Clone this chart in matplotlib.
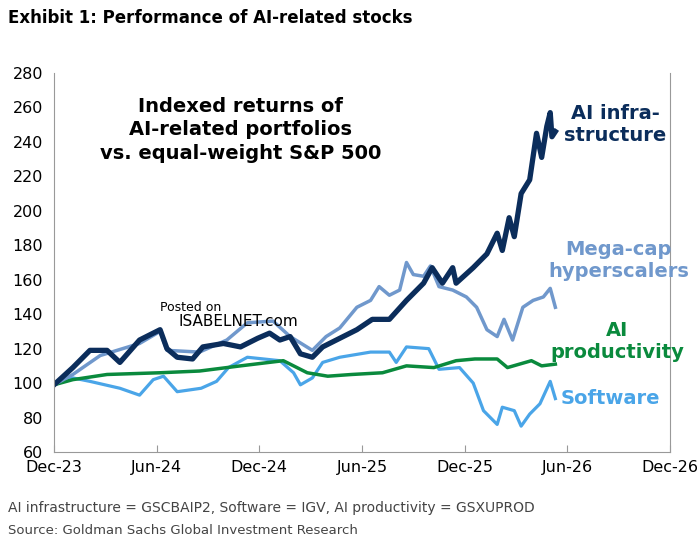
import matplotlib
matplotlib.use("Agg")
import matplotlib.pyplot as plt

tick_labels = ["Dec-23", "Jun-24", "Dec-24", "Jun-25", "Dec-25", "Jun-26", "Dec-26"]
tick_months = [0, 6, 12, 18, 24, 30, 36]

infra_m = [0, 1.1, 2.1, 3.1, 3.85, 5.0, 5.8, 6.2, 6.6, 7.2, 8.1, 8.7, 9.9, 10.9, 11.9, 12.6, 13.2, 13.8, 14.4, 15.1, 15.7, 16.7, 17.7, 18.6, 19.6, 20.6, 21.6, 22.1, 22.7, 23.3, 23.5, 24.5, 25.3, 25.9, 26.2, 26.6, 26.9, 27.3, 27.8, 28.2, 28.5, 28.8, 29.0, 29.1, 29.3]
infra_v = [99, 109, 119, 119, 112, 125, 129, 131, 120, 115, 114, 121, 123, 121, 126, 129, 125, 127, 117, 115, 121, 126, 131, 137, 137, 148, 158, 167, 158, 167, 158, 167, 175, 187, 177, 196, 185, 210, 218, 245, 231, 249, 257, 243, 246]

mega_m = [0, 1.1, 2.7, 5.0, 6.2, 6.6, 8.5, 10.1, 11.3, 12.8, 13.8, 15.1, 15.9, 16.7, 17.7, 18.5, 19.0, 19.6, 20.2, 20.6, 21.0, 21.6, 22.0, 22.5, 23.3, 24.1, 24.7, 25.3, 25.9, 26.3, 26.8, 27.4, 28.0, 28.6, 29.0, 29.3]
mega_v = [99, 105, 116, 123, 130, 119, 118, 125, 135, 136, 127, 119, 127, 132, 144, 148, 156, 151, 154, 170, 163, 162, 168, 156, 154, 150, 144, 131, 127, 137, 125, 144, 148, 150, 155, 144]

soft_m = [0, 1.1, 2.1, 3.85, 5.0, 5.8, 6.4, 7.2, 8.6, 9.5, 10.2, 11.3, 13.2, 14.0, 14.4, 15.1, 15.7, 16.7, 18.5, 19.6, 20.0, 20.6, 21.9, 22.5, 23.7, 24.5, 25.1, 25.9, 26.2, 26.9, 27.3, 27.8, 28.4, 29.0, 29.3]
soft_v = [99, 103, 101, 97, 93, 102, 104, 95, 97, 101, 109, 115, 113, 106, 99, 103, 112, 115, 118, 118, 112, 121, 120, 108, 109, 100, 84, 76, 86, 84, 75, 82, 88, 101, 91]

prod_m = [0, 1.1, 3.1, 6.2, 8.5, 10.9, 13.4, 14.8, 16.0, 17.4, 19.2, 20.6, 22.2, 23.5, 24.6, 25.9, 26.5, 27.9, 28.5, 29.3]
prod_v = [99, 102, 105, 106, 107, 110, 113, 106, 104, 105, 106, 110, 109, 113, 114, 114, 109, 113, 110, 111]

c_infra, c_mega, c_soft, c_prod = "#0b2d5b", "#7098cc", "#4aa5e8", "#0a8a3d"

fig = plt.figure(figsize=(7, 5.5), dpi=100)
ax = fig.add_axes([54/700, 1-452/550, (670-54)/700, (452-73)/550])
ax.plot(soft_m, soft_v, color=c_soft, lw=2.3)
ax.plot(prod_m, prod_v, color=c_prod, lw=2.5)
ax.plot(mega_m, mega_v, color=c_mega, lw=2.5)
ax.plot(infra_m, infra_v, color=c_infra, lw=3.8)

ax.set_xlim(0, 36)
ax.set_ylim(60, 280)
ax.set_yticks(range(60, 281, 20))
ax.set_xticks(tick_months)
ax.set_xticklabels(tick_labels)
ax.tick_params(labelsize=11.5, colors="black", length=5)
ax.tick_params(axis="y", length=0, pad=8)
ax.tick_params(axis="x", direction="in", color="#999999", pad=6)
for s in ["left", "bottom", "right"]:
    ax.spines[s].set_color("#999999")
ax.spines["top"].set_visible(False)

ax.text(10.9, 247, "Indexed returns of\nAI-related portfolios\nvs. equal-weight S&P 500", ha="center", va="center",
        fontsize=14, fontweight="bold", linespacing=1.3)
ax.text(32.8, 250, "AI infra-\nstructure", color=c_infra, fontsize=14, fontweight="bold", ha="center", va="center")
ax.text(33.0, 171, "Mega-cap\nhyperscalers", color=c_mega, fontsize=14, fontweight="bold", ha="center", va="center")
ax.text(32.9, 124, "AI\nproductivity", color=c_prod, fontsize=14, fontweight="bold", ha="center", va="center")
ax.text(32.5, 91, "Software", color=c_soft, fontsize=14, fontweight="bold", ha="center", va="center")
ax.text(6.2, 144, "Posted on", fontsize=9, ha="left", va="center")
ax.text(7.3, 135.5, "ISABELNET.com", fontsize=11, ha="left", va="center")

fig.text(8/700, 1-18/550, "Exhibit 1: Performance of AI-related stocks", fontsize=12, fontweight="semibold", va="center")
fig.text(8/700, 1-508/550, "AI infrastructure = GSCBAIP2, Software = IGV, AI productivity = GSXUPROD", fontsize=10, color="#444444", va="center")
fig.text(8/700, 1-530/550, "Source: Goldman Sachs Global Investment Research", fontsize=9.5, color="#444444", va="center")

fig.savefig("out.png", dpi=100)
